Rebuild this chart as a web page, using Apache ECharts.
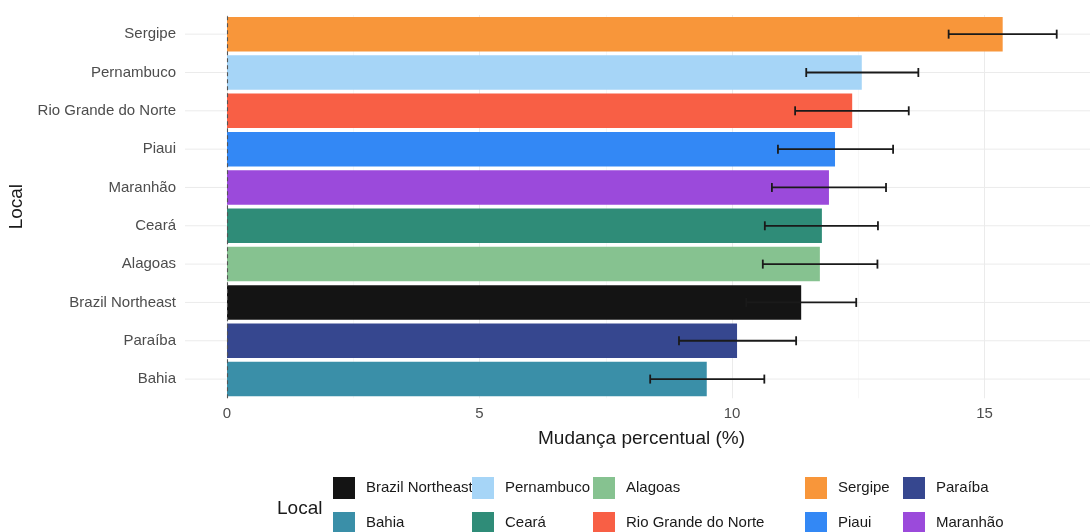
<!DOCTYPE html>
<html>
<head>
<meta charset="utf-8">
<title>Mudança percentual por local</title>
<script src="https://cdn.jsdelivr.net/npm/echarts@6/dist/echarts.min.js"></script>
<style>
  html, body { margin: 0; padding: 0; background: #ffffff; }
  #chart { width: 1090px; height: 532px; }
</style>
</head>
<body>
<div id="chart"></div>
<script>
// Locations, bottom to top as drawn on the category axis
const categories = ['Bahia', 'Paraíba', 'Brazil Northeast', 'Alagoas', 'Ceará',
  'Maranhão', 'Piaui', 'Rio Grande do Norte', 'Pernambuco', 'Sergipe'];
// Percentage change and its interval bounds
const values = [9.50, 10.10, 11.37, 11.74, 11.78, 11.92, 12.04, 12.38, 12.57, 15.36];
const lower  = [8.38, 8.95, 10.28, 10.61, 10.65, 10.79, 10.91, 11.25, 11.47, 14.29];
const upper  = [10.64, 11.27, 12.46, 12.88, 12.89, 13.05, 13.19, 13.50, 13.69, 16.43];
// Value-axis tick labels
const xTicks = [0, 5, 10, 15];

// Fill colour for each location
const palette = {
  'Brazil Northeast': '#141414',
  'Bahia': '#3a8fa8',
  'Pernambuco': '#a6d5f7',
  'Ceará': '#2f8c78',
  'Alagoas': '#86c290',
  'Rio Grande do Norte': '#f85f45',
  'Sergipe': '#f8963a',
  'Piaui': '#3388f5',
  'Paraíba': '#36478f',
  'Maranhão': '#9b4adb'
};
// Legend columns (two rows each)
const legendColumns = [
  ['Brazil Northeast', 'Bahia'],
  ['Pernambuco', 'Ceará'],
  ['Alagoas', 'Rio Grande do Norte'],
  ['Sergipe', 'Piaui'],
  ['Paraíba', 'Maranhão']
];
const legendColumnLeft = [333, 472, 593, 805, 903];

const FONT = "'Liberation Sans', Arial, Helvetica, sans-serif";

const chart = echarts.init(document.getElementById('chart'), null, { renderer: 'canvas' });

// One bar series per location so each gets its own legend entry
const barSeries = categories.map((name, i) => ({
  name: name,
  type: 'bar',
  stack: 'all',
  barWidth: '90%',
  z: 3,
  itemStyle: { color: palette[name] },
  data: categories.map((c, j) => (j === i ? values[j] : '-')),
  markLine: i === 0 ? {
    silent: true,
    z: 6,
    symbol: ['none', 'none'],
    label: { show: false },
    lineStyle: { color: '#555555', type: [4, 3], width: 1.1 },
    data: [{ xAxis: 0 }]
  } : undefined
}));

// Horizontal grid lines at every category
const gridSeries = {
  type: 'custom',
  silent: true,
  z: 1,
  data: categories.map((c, i) => [0, i]),
  renderItem: function (params, api) {
    const p = api.coord([0, api.value(1)]);
    const cs = params.coordSys;
    return {
      type: 'line',
      shape: { x1: cs.x - 42, y1: p[1], x2: 1090, y2: p[1] },
      style: { stroke: '#ebebeb', lineWidth: 1 }
    };
  }
};

// Error bars: whisker plus end caps
const errorSeries = {
  type: 'custom',
  silent: true,
  z: 5,
  data: categories.map((c, i) => [lower[i], upper[i], i]),
  renderItem: function (params, api) {
    const a = api.coord([api.value(0), api.value(2)]);
    const b = api.coord([api.value(1), api.value(2)]);
    const h = 4.5;
    const st = { stroke: '#1a1a1a', lineWidth: 1.8 };
    return {
      type: 'group',
      children: [
        { type: 'line', shape: { x1: a[0], y1: a[1], x2: b[0], y2: b[1] }, style: st },
        { type: 'line', shape: { x1: a[0], y1: a[1] - h, x2: a[0], y2: a[1] + h }, style: st },
        { type: 'line', shape: { x1: b[0], y1: b[1] - h, x2: b[0], y2: b[1] + h }, style: st }
      ]
    };
  }
};

const legends = legendColumns.map((col, k) => ({
  orient: 'vertical',
  left: legendColumnLeft[k],
  top: 477,
  height: 120,
  padding: 0,
  itemWidth: 22,
  itemHeight: 22,
  itemGap: 13,
  icon: 'rect',
  selectedMode: false,
  data: col,
  textStyle: { fontFamily: FONT, fontSize: 15, color: '#1a1a1a', padding: [3, 0, 0, 6] }
}));

const option = {
  backgroundColor: '#ffffff',
  animation: false,
  grid: {
    left: 227, top: 15, height: 383.25, width: 1010,
    containLabel: false, outerBoundsMode: 'none'
  },
  xAxis: {
    type: 'value',
    min: 0,
    max: 20,
    interval: 5,
    axisLine: { show: false },
    axisTick: { show: false },
    axisLabel: {
      margin: 8,
      fontFamily: FONT,
      fontSize: 15,
      color: '#4d4d4d',
      formatter: v => (xTicks.indexOf(v) >= 0 ? String(v) : '')
    },
    splitLine: { show: true, lineStyle: { color: '#ebebeb', width: 1 } },
    minorTick: { show: false, splitNumber: 2 },
    minorSplitLine: { show: true, lineStyle: { color: '#f3f3f3', width: 0.7 } }
  },
  yAxis: {
    type: 'category',
    data: categories,
    name: 'Local',
    nameLocation: 'middle',
    nameRotate: 90,
    nameGap: 198,
    nameTextStyle: { fontFamily: FONT, fontSize: 19, color: '#1a1a1a' },
    axisLine: { show: false },
    axisTick: { show: false },
    splitLine: { show: false },
    axisLabel: { margin: 51, fontFamily: FONT, fontSize: 15, color: '#4d4d4d' }
  },
  legend: legends,
  graphic: [
    {
      type: 'text',
      left: 641 - 103,
      top: 429,
      style: { text: 'Mudança percentual (%)', font: '19px ' + FONT, fill: '#1a1a1a' }
    },
    {
      type: 'text',
      left: 277,
      top: 499,
      style: { text: 'Local', font: '19px ' + FONT, fill: '#1a1a1a' }
    }
  ],
  series: [gridSeries].concat(barSeries, [errorSeries])
};

chart.setOption(option);
</script>
</body>
</html>
